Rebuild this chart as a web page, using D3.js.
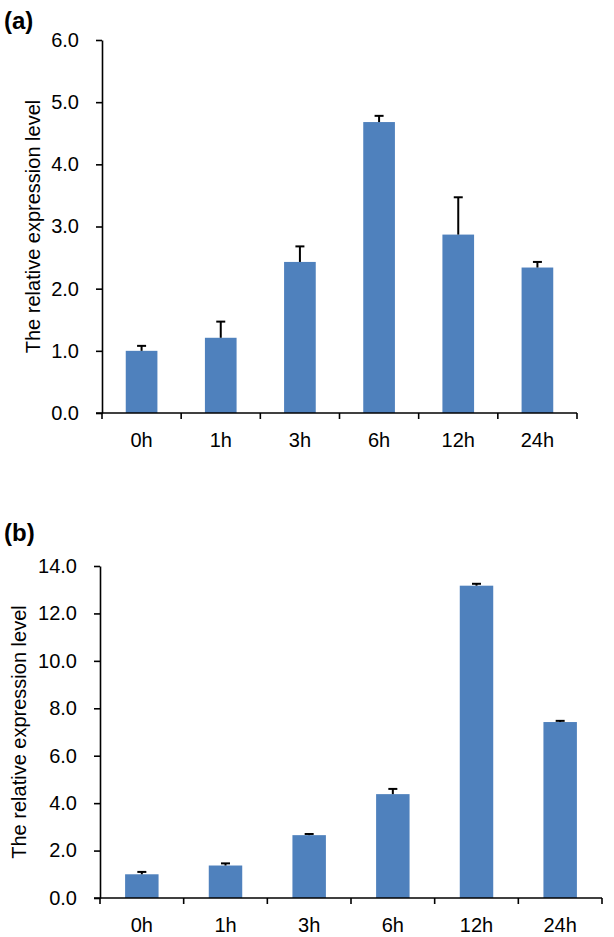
<!DOCTYPE html>
<html>
<head>
<meta charset="utf-8">
<script src="https://cdn.jsdelivr.net/npm/d3@7"></script>
<style>
  body { margin: 0; background: #fff; }
  svg text { font-family: "Liberation Sans", Arial, Helvetica, sans-serif; fill: #000; }
</style>
</head>
<body>
<div id="chart"></div>
<script>
// categories shared by both panels
const categories = ["0h", "1h", "3h", "6h", "12h", "24h"];

// panel (a)
const valuesA = [1.00, 1.21, 2.43, 4.68, 2.87, 2.34];
const errorsA = [0.08, 0.26, 0.25, 0.10, 0.60, 0.09];
const ticksA = [0, 1, 2, 3, 4, 5, 6];

// panel (b)
const valuesB = [1.00, 1.37, 2.65, 4.38, 13.17, 7.42];
const errorsB = [0.10, 0.09, 0.05, 0.22, 0.08, 0.05];
const ticksB = [0, 2, 4, 6, 8, 10, 12, 14];

const yTitle = "The relative expression level";
const barColor = "#4f81bd";

const svg = d3.select("#chart").append("svg")
  .attr("width", 614)
  .attr("height", 937);

function drawPanel(opt) {
  const g = svg.append("g");

  const x = d3.scaleBand()
    .domain(categories)
    .range([opt.left, opt.right])
    .paddingInner(0.6)
    .paddingOuter(0.3);

  const y = d3.scaleLinear()
    .domain([0, d3.max(opt.ticks)])
    .range([opt.bottom, opt.top]);

  // bars
  g.selectAll("rect.bar")
    .data(opt.values)
    .join("rect")
    .attr("class", "bar")
    .attr("x", (d, i) => x(categories[i]))
    .attr("y", d => y(d))
    .attr("width", x.bandwidth())
    .attr("height", d => y(0) - y(d))
    .attr("fill", barColor);

  // error bars (upper only)
  const err = g.selectAll("g.err")
    .data(opt.values)
    .join("g")
    .attr("class", "err");
  err.append("line")
    .attr("x1", (d, i) => x(categories[i]) + x.bandwidth() / 2)
    .attr("x2", (d, i) => x(categories[i]) + x.bandwidth() / 2)
    .attr("y1", d => y(d))
    .attr("y2", (d, i) => y(d + opt.errors[i]))
    .attr("stroke", "#000")
    .attr("stroke-width", 2);
  err.append("line")
    .attr("x1", (d, i) => x(categories[i]) + x.bandwidth() / 2 - 4.5)
    .attr("x2", (d, i) => x(categories[i]) + x.bandwidth() / 2 + 4.5)
    .attr("y1", (d, i) => y(d + opt.errors[i]))
    .attr("y2", (d, i) => y(d + opt.errors[i]))
    .attr("stroke", "#000")
    .attr("stroke-width", 2);

  // y axis
  const yAxis = g.append("g")
    .attr("transform", "translate(" + opt.left + ",0)")
    .call(d3.axisLeft(y)
      .tickValues(opt.ticks)
      .tickFormat(d3.format(".1f"))
      .tickSize(6)
      .tickSizeOuter(0)
      .tickPadding(17));
  yAxis.selectAll("text").style("font-size", "20px");
  yAxis.selectAll("line, path").attr("stroke", "#000").attr("stroke-width", 1.6);

  // x axis: labels centred, ticks on band boundaries
  const xAxis = g.append("g")
    .attr("transform", "translate(0," + opt.bottom + ")")
    .call(d3.axisBottom(x).tickSize(0).tickSizeOuter(0).tickPadding(20));
  xAxis.selectAll("text").style("font-size", "20px");
  xAxis.select("path.domain").remove();
  xAxis.append("line")
    .attr("x1", opt.left - 6)
    .attr("x2", opt.right)
    .attr("stroke", "#000")
    .attr("stroke-width", 1.6);
  const bounds = categories.map(c => x(c) - (x.step() - x.bandwidth()) / 2).concat([opt.right]);
  xAxis.selectAll("line.bt")
    .data(bounds)
    .join("line")
    .attr("class", "bt")
    .attr("x1", d => d).attr("x2", d => d)
    .attr("y1", 0).attr("y2", 6)
    .attr("stroke", "#000")
    .attr("stroke-width", 1.6);

  // y title
  g.append("text")
    .attr("transform", "translate(" + opt.titleX + "," + (opt.top + opt.bottom) / 2 + ") rotate(-90)")
    .attr("text-anchor", "middle")
    .attr("dy", "0.35em")
    .style("font-size", "20px")
    .text(yTitle);

  // panel letter
  g.append("text")
    .attr("x", 4)
    .attr("y", opt.labelY)
    .style("font-size", "24px")
    .style("font-weight", "bold")
    .text(opt.label);
}

drawPanel({
  values: valuesA, errors: errorsA, ticks: ticksA,
  left: 102, right: 577, top: 40, bottom: 413,
  titleX: 33, label: "(a)", labelY: 29
});

drawPanel({
  values: valuesB, errors: errorsB, ticks: ticksB,
  left: 100, right: 602, top: 566, bottom: 898,
  titleX: 19, label: "(b)", labelY: 541
});
</script>
</body>
</html>
